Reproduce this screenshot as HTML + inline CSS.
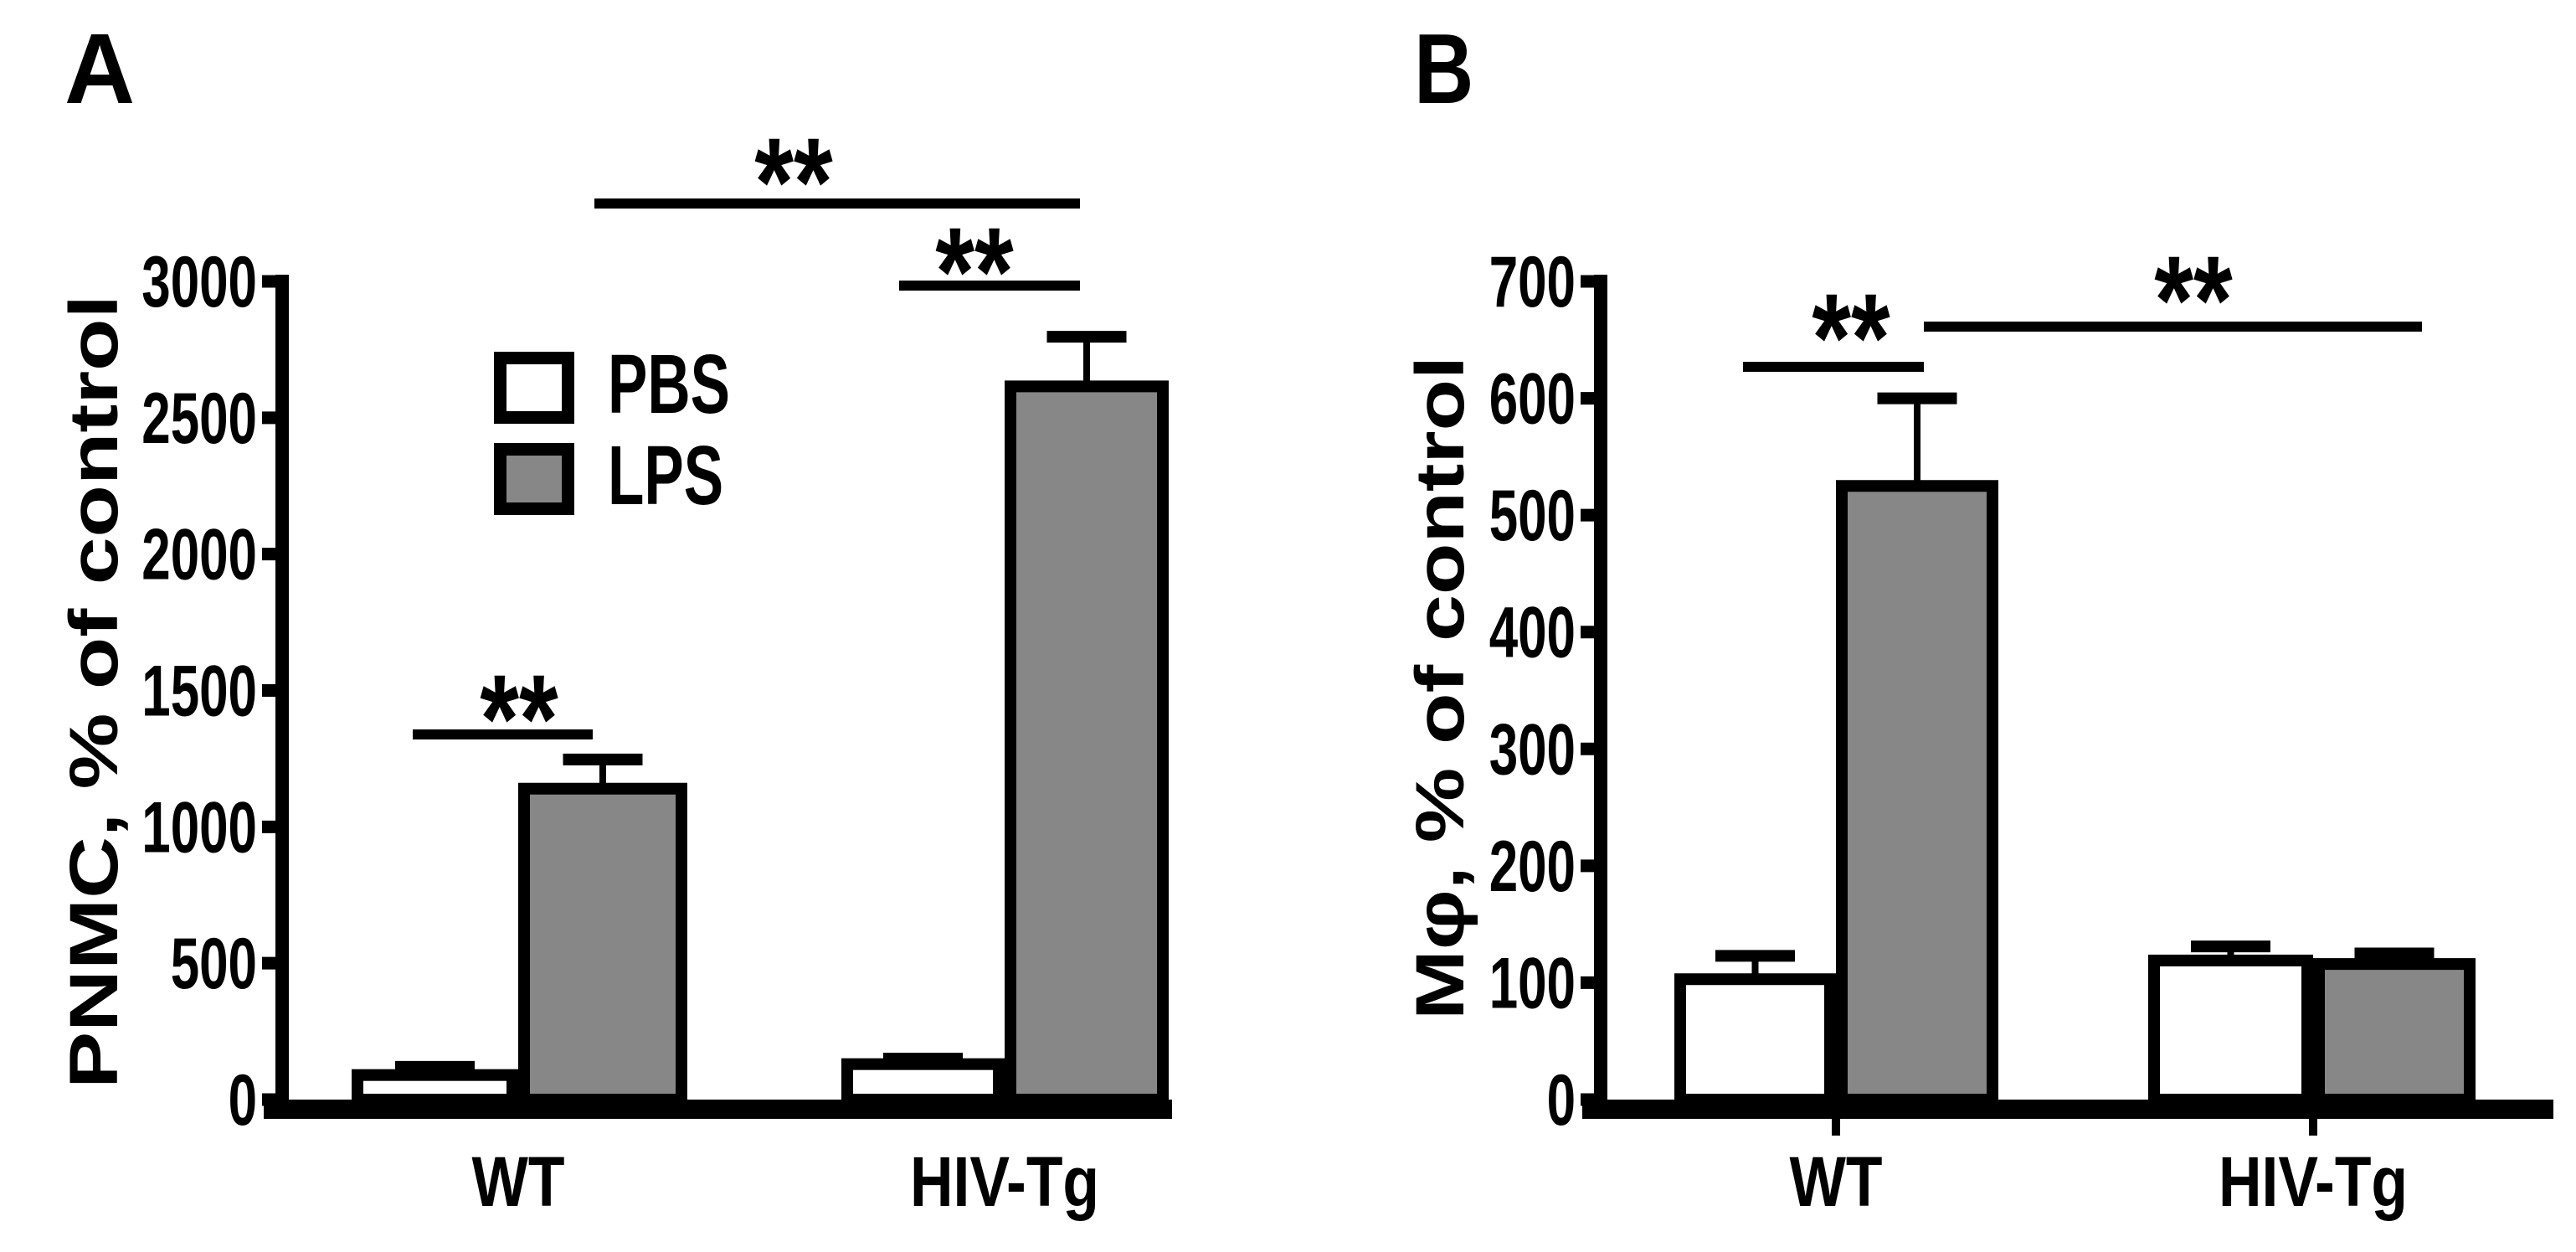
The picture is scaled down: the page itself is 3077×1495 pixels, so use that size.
<!DOCTYPE html>
<html><head><meta charset="utf-8"><style>
html,body{margin:0;padding:0;background:#fff;}
svg{display:block;}
text{font-family:"Liberation Sans",Arial,sans-serif;font-weight:bold;fill:#000;}
</style></head><body>
<svg id="fig" width="3077" height="1495" viewBox="0 0 3077 1495" xmlns="http://www.w3.org/2000/svg">
<g id="pa"></g>
<g id="pb"></g>
</svg>
<script>
// ---- data ----
const groups = ["WT", "HIV-Tg"];
const seriesNames = ["PBS", "LPS"];
const aPBS = [90, 130];
const aLPS = [1140, 2615];
const aPBSerr = [120, 150];
const aLPSerr = [1247, 2797];
const aTicks = [0, 500, 1000, 1500, 2000, 2500, 3000];
const bPBS = [103, 119];
const bLPS = [525, 116];
const bPBSerr = [123, 131];
const bLPSerr = [600, 125];
const bTicks = [0, 100, 200, 300, 400, 500, 600, 700];

const NS = "http://www.w3.org/2000/svg";
function mk(parent, tag, attrs) {
  const e = document.createElementNS(NS, tag);
  for (const k in attrs) e.setAttribute(k, attrs[k]);
  parent.appendChild(e);
  return e;
}
function txt(parent, s, x, y, size, anchor, sx, name) {
  const t = mk(parent, "text", {transform: `translate(${x},${y}) scale(${sx},1)`, "font-size": size, "text-anchor": anchor});
  t.textContent = s;
  
  
  return t;
}

function panel(g, cfg) {
  const y0 = 1313, ytop = 336;
  const y = v => y0 - v * (y0 - ytop) / cfg.max;
  txt(g, cfg.letter, cfg.letterX, 123, 119, "start", cfg.letterSx, "panel-letter");
  const yt = mk(g, "text", {transform: `translate(${cfg.titleX},${(cfg.titleTop + cfg.titleBot) / 2}) rotate(-90)`, "font-size": 82, "text-anchor": "middle", textLength: cfg.titleBot - cfg.titleTop, lengthAdjust: "spacingAndGlyphs"});
  yt.textContent = cfg.title;
  
  
  const sw = 14;
  for (let i = 0; i < groups.length; i++) {
    const vals = [cfg.pbs[i], cfg.lps[i]];
    const errs = [cfg.pbsErr[i], cfg.lpsErr[i]];
    for (let s = 0; s < 2; s++) {
      const x1 = cfg.barX[i][s], x2 = cfg.barX[i][s + 1];
      const cx = (x1 + x2) / 2;
      const top = y(vals[s]);
      const et = y(errs[s]);
      const eg = mk(g, "g", {});
      
      
      mk(eg, "line", {x1: cx, x2: cx, y1: top, y2: et, stroke: "#000", "stroke-width": 8});
      mk(eg, "line", {x1: cx - cfg.cap / 2, x2: cx + cfg.cap / 2, y1: et, y2: et, stroke: "#000", "stroke-width": 14});
      const r = mk(g, "rect", {x: x1 + sw / 2, y: top, width: x2 - x1 - sw, height: y0 - top, fill: s ? "#878787" : "#fff", stroke: "#000", "stroke-width": sw});
      
      
    }
  }
  const ya = mk(g, "line", {x1: cfg.axisX, x2: cfg.axisX, y1: ytop - 8, y2: y0 + 20, stroke: "#000", "stroke-width": 16});
  
  
  const xa = mk(g, "rect", {x: cfg.axisX - 22, y: y0, width: cfg.xEnd - cfg.axisX + 22, height: 23, fill: "#000"});
  
  
  for (const t of cfg.ticks) {
    const ty = y(t);
    const tk = mk(g, "line", {x1: cfg.axisX - 24, x2: cfg.axisX, y1: ty, y2: ty, stroke: "#000", "stroke-width": 15});
    
    
    txt(g, String(t), cfg.axisX - 30, ty + 30, 86, "end", 0.72, "y-tick-label");
  }
  for (let i = 0; i < groups.length; i++) {
    const gx = cfg.barX[i][1];
    if (cfg.xTicks) {
      const xt = mk(g, "line", {x1: gx, x2: gx, y1: y0, y2: 1356, stroke: "#000", "stroke-width": 10});
      
      
    }
    txt(g, groups[i], gx, 1440, 84, "middle", 0.85, "x-tick-label");
  }
  for (const b of cfg.sig) {
    const sg = mk(g, "g", {});
    
    
    mk(sg, "line", {x1: b[0], x2: b[1], y1: b[2], y2: b[2], stroke: "#000", "stroke-width": 12});
    txt(sg, "**", b[3], b[4] + 80, 150, "middle", 0.8, "significance-stars");
  }
}

panel(document.getElementById("pa"), {
  letter: "A", letterX: 77, letterSx: 0.98, max: 3000, ticks: aTicks,
  pbs: aPBS, lps: aLPS, pbsErr: aPBSerr, lpsErr: aLPSerr,
  title: "PNMC, % of control", titleX: 140, titleTop: 352, titleBot: 1300,
  axisX: 337, xEnd: 1400, cap: 95, xTicks: false,
  barX: [[420, 619, 821], [1005, 1200, 1396]],
  sig: [[493, 708, 877, 620, 830], [1074, 1290, 341, 1164, 296], [710, 1290, 243, 948, 189]]
});
panel(document.getElementById("pb"), {
  letter: "B", letterX: 1689, letterSx: 0.83, max: 700, ticks: bTicks,
  pbs: bPBS, lps: bLPS, pbsErr: bPBSerr, lpsErr: bLPSerr,
  title: "M\u03C6, % of control", titleX: 1748, titleTop: 425, titleBot: 1218,
  axisX: 1912, xEnd: 3050, cap: 95, xTicks: true,
  barX: [[2000, 2193, 2387], [2566, 2763, 2957]],
  sig: [[2082, 2298, 438, 2211, 375], [2298, 2893, 390, 2620, 330]]
});

const svg = document.getElementById("fig");
const lg = mk(svg, "g", {});


const legendY = [420, 529];
for (let s = 0; s < 2; s++) {
  const r = mk(lg, "rect", {x: 597.5, y: legendY[s] + 7.5, width: 81, height: 71, fill: s ? "#878787" : "#fff", stroke: "#000", "stroke-width": 15});
  
  
  txt(lg, seriesNames[s], 726, legendY[s] + 73, 100, "start", 0.71, "legend-label-" + seriesNames[s].toLowerCase());
}
</script>
</body></html>
